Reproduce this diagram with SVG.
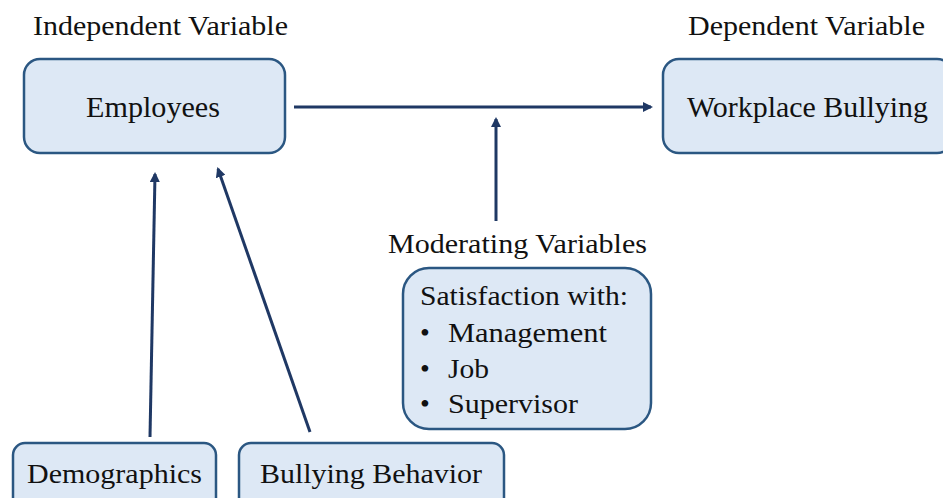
<svg xmlns="http://www.w3.org/2000/svg" width="943" height="498" viewBox="0 0 943 498">
<style>
.box{fill:#dde8f5;stroke:#2b5782;stroke-width:2.5}
.t{font-family:"Liberation Serif","Times New Roman",serif;font-size:28px;fill:#111}
.big{font-size:30px}
.c{stroke:#1f3864;stroke-width:3;fill:none}
</style>
<defs>
<marker id="ah" markerWidth="10" markerHeight="10" refX="8" refY="5" orient="auto" markerUnits="userSpaceOnUse">
<path d="M0,0 L10,5 L0,10 Z" fill="#1f3864"/>
</marker>
</defs>
<rect width="943" height="498" fill="#fff"/>
<text class="t" x="33" y="35" textLength="255" lengthAdjust="spacingAndGlyphs">Independent Variable</text>
<text class="t" x="688" y="35" textLength="237" lengthAdjust="spacingAndGlyphs">Dependent Variable</text>
<text class="t" x="388" y="253" textLength="259" lengthAdjust="spacingAndGlyphs">Moderating Variables</text>
<g id="employees">
<rect class="box" x="24" y="59" width="261" height="94" rx="16"/>
<text class="t big" x="86" y="117" textLength="134" lengthAdjust="spacingAndGlyphs">Employees</text>
</g>
<g id="workplace-bullying">
<rect class="box" x="663" y="59" width="290" height="94" rx="16"/>
<text class="t big" x="687" y="117" textLength="241" lengthAdjust="spacingAndGlyphs">Workplace Bullying</text>
</g>
<g id="moderating">
<rect class="box" x="403" y="268" width="248" height="161" rx="26"/>
<text class="t" x="420" y="305" textLength="208" lengthAdjust="spacingAndGlyphs">Satisfaction with:</text>
<text class="t" x="420" y="342">•</text>
<text class="t" x="448" y="342" textLength="159" lengthAdjust="spacingAndGlyphs">Management</text>
<text class="t" x="420" y="378">•</text>
<text class="t" x="448" y="378" textLength="41" lengthAdjust="spacingAndGlyphs">Job</text>
<text class="t" x="420" y="413">•</text>
<text class="t" x="448" y="413" textLength="130" lengthAdjust="spacingAndGlyphs">Supervisor</text>
</g>
<g id="demographics">
<rect class="box" x="13" y="443" width="203" height="80" rx="12"/>
<text class="t" x="27" y="483" textLength="175" lengthAdjust="spacingAndGlyphs">Demographics</text>
</g>
<g id="bullying-behavior">
<rect class="box" x="239" y="443" width="265" height="80" rx="12"/>
<text class="t" x="260" y="483" textLength="222" lengthAdjust="spacingAndGlyphs">Bullying Behavior</text>
</g>
<g id="connectors">
<line class="c" x1="294" y1="107" x2="651" y2="107" marker-end="url(#ah)"/>
<line class="c" x1="496" y1="221" x2="496" y2="119" marker-end="url(#ah)"/>
<line class="c" x1="150" y1="437" x2="155" y2="174" marker-end="url(#ah)"/>
<line class="c" x1="310" y1="432" x2="218" y2="169" marker-end="url(#ah)"/>
</g>
</svg>
